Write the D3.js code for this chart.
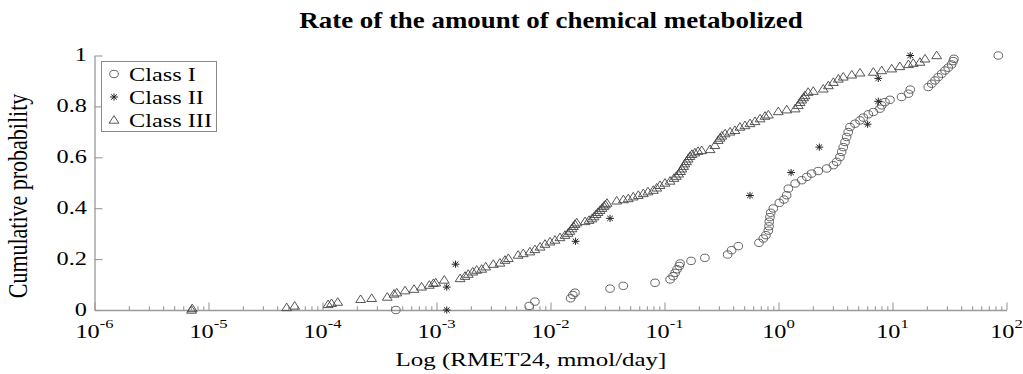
<!DOCTYPE html>
<html><head><meta charset="utf-8">
<script src="https://cdn.jsdelivr.net/npm/d3@7"></script>
<style>
body{margin:0;background:#fff}
svg{display:block}
text{font-family:"Liberation Serif","Times New Roman",serif;fill:#000}
</style>
</head><body>
<svg id="chart" width="1023" height="374"></svg>
<script>
// ---------- data ----------
const chartTitle = "Rate of the amount of chemical metabolized";
const xAxisTitle = "Log (RMET24, mmol/day]";
const yAxisTitle = "Cumulative probability";
const seriesNames = ["Class I", "Class II", "Class III"];
const xTickExponents = [-6, -5, -4, -3, -2, -1, 0, 1, 2];
const yTickValues = [0, 0.2, 0.4, 0.6, 0.8, 1];
const yTickLabels = ["0", "0.2", "0.4", "0.6", "0.8", "1"];

// Class I  (RMET24 value, cumulative probability)
const classI = [
 [4.4e-4,0],[6.5e-3,.016],[7.3e-3,.033],[.0150,.046],[.0157,.059],[.0164,.068],[.0333,.084],[.0435,.095],
 [.0826,.107],[.112,.120],[.119,.133],[.124,.146],[.129,.160],[.135,.173],[.137,.183],[.171,.193],[.226,.205],
 [.358,.218],[.388,.235],[.444,.251],[.674,.264],[.736,.281],[.776,.294],[.815,.312],[.826,.329],[.830,.347],
 [.841,.365],[.855,.382],[.90,.399],[1.017,.421],[1.117,.434],[1.18,.451],[1.22,.477],[1.40,.497],[1.60,.510],
 [1.77,.523],[1.95,.536],[2.23,.546],[2.65,.556],[3.03,.569],[3.24,.582],[3.46,.601],[3.58,.621],[3.70,.640],
 [3.83,.660],[3.96,.680],[4.09,.699],[4.24,.719],[4.69,.732],[5.19,.745],[5.55,.756],[6.14,.769],[6.79,.778],
 [7.76,.791],[8.04,.804],[8.59,.817],[9.50,.826],[12.0,.837],[13.8,.850],[14.3,.866],[20.6,.876],[22.1,.889],
 [23.6,.902],[25.2,.915],[27.0,.928],[28.9,.941],[30.8,.952],[33.0,.965],[34.1,.978],[34.6,.987],[84.7,1.0]
];
// Class II
const classII = [
 [1.23e-3,0],[1.23e-3,.09],[1.47e-3,.18],[.0166,.27],[.0333,.36],[.562,.45],[1.29,.54],[2.28,.64],
 [6.05,.73],[7.5,.82],[7.5,.91],[14.3,1.0]
];
// Class III
const classIII = [
 [7.1e-6,0],[7.2e-6,.006],[4.85e-5,.010],[5.7e-5,.016],[1.12e-4,.022],[1.2e-4,.026],[1.36e-4,.031],[2.16e-4,.042],
 [2.7e-4,.046],[3.7e-4,.051],[4.24e-4,.063],[4.48e-4,.068],[5.3e-4,.076],[6.35e-4,.082],[7.4e-4,.091],[8.65e-4,.098],
 [9.4e-4,.105],[9.85e-4,.107],[1.17e-3,.118],[1.61e-3,.124],[1.78e-3,.133],[1.9e-3,.141],[2.08e-3,.150],[2.25e-3,.157],
 [2.49e-3,.161],[2.7e-3,.170],[3.15e-3,.180],[3.6e-3,.185],[3.99e-3,.196],[4.27e-3,.203],[5.2e-3,.216],[5.77e-3,.222],
 [6.6e-3,.229],[7.3e-3,.238],[8.1e-3,.248],[8.95e-3,.259],[9.9e-3,.268],[.01095,.275],[.0121,.285],[.0134,.294],
 [.01425,.302],[.0148,.310],[.01545,.320],[.0159,.329],[.0164,.337],[.0170,.343],[.0201,.348],[.0218,.353],
 [.0231,.359],[.0241,.367],[.0251,.376],[.0261,.384],[.0272,.392],[.0283,.400],[.0294,.408],[.0303,.414],
 [.0313,.420],[.0381,.429],[.0436,.434],[.0481,.438],[.0532,.445],[.0589,.451],[.0652,.458],[.0716,.465],
 [.0798,.471],[.0855,.480],[.0914,.490],[.101,.499],[.112,.507],[.121,.518],[.127,.526],[.133,.535],
 [.138,.545],[.142,.555],[.147,.565],[.151,.575],[.156,.584],[.161,.594],[.167,.604],[.174,.612],
 [.185,.618],[.197,.624],[.212,.627],[.251,.631],[.277,.647],[.296,.667],[.307,.676],[.318,.684],
 [.340,.693],[.376,.700],[.415,.706],[.459,.719],[.508,.725],[.562,.733],[.622,.741],[.689,.752],
 [.762,.762],[.815,.767],[.996,.780],[1.18,.787],[1.40,.791],[1.49,.804],[1.545,.816],[1.60,.826],
 [1.66,.835],[1.71,.843],[1.82,.856],[2.02,.860],[2.47,.869],[2.74,.882],[3.03,.895],[3.35,.908],
 [3.70,.916],[4.39,.924],[5.19,.932],[6.79,.935],[8.04,.941],[9.84,.948],[11.6,.957],[13.8,.965],
 [15.2,.970],[17.4,.974],[19.3,.987],[24.4,1.0]
];

// ---------- layout ----------
const SX = 1.28;           // horizontal stretch of the reference image
const svg = d3.select("#chart");
const axisColor = "#9a9a9a";
const x = d3.scaleLog().domain([1e-6, 1e2]).range([94.5, 1006.5]);
const y = d3.scaleLinear().domain([0, 1]).range([310, 55.5]);

function stext(str, tx, ty, size, anchor, weight, sx) {
  return svg.append("text")
    .attr("transform", `translate(${tx},${ty}) scale(${sx || SX},1)`)
    .attr("text-anchor", anchor || "middle")
    .style("font-size", size + "px")
    .style("font-weight", weight || "normal")
    .text(str);
}

// title
stext(chartTitle, 551, 28, 23, "middle", "bold", 1.17);

// axes
const majorVals = xTickExponents.map(e => Math.pow(10, e));
const minorVals = [];
xTickExponents.slice(0, -1).forEach(e => { for (let k = 2; k <= 9; k++) minorVals.push(k * Math.pow(10, e)); });

const gx = svg.append("g").attr("transform", `translate(0,${y(0)})`);
gx.call(d3.axisBottom(x).tickValues(majorVals).tickSize(-7.5).tickSizeOuter(0).tickFormat(""));
const gxm = svg.append("g").attr("transform", `translate(0,${y(0)})`);
gxm.call(d3.axisBottom(x).tickValues(minorVals).tickSize(-3.8).tickSizeOuter(0).tickFormat(""));
gxm.select(".domain").remove();

const gy = svg.append("g").attr("transform", `translate(${x(1e-6)},0)`);
gy.call(d3.axisLeft(y).tickValues(yTickValues).tickSize(-8).tickSizeOuter(0).tickFormat(""));

svg.selectAll(".domain").attr("stroke", axisColor).attr("stroke-width", 1.3);
svg.selectAll(".tick line").attr("stroke", axisColor).attr("stroke-width", 1.1);

// x tick labels 10^e
xTickExponents.forEach(e => {
  const t = svg.append("text")
    .attr("transform", `translate(${x(Math.pow(10, e))},337.5) scale(${SX},1)`)
    .attr("text-anchor", "middle")
    .style("font-size", "19px");
  t.append("tspan").text("10");
  t.append("tspan").attr("dy", -9.5).style("font-size", "13px").text(String(e));
});
// y tick labels
yTickValues.forEach((v, i) => {
  stext(yTickLabels[i], 87, y(v) + 5.5, 19, "end");
});
// axis titles
stext(xAxisTitle, 531, 366, 19.5, "middle");
svg.append("text")
  .attr("transform", `translate(27,196) scale(${SX},1) rotate(-90)`)
  .attr("text-anchor", "middle")
  .style("font-size", "22px")
  .text(yAxisTitle);

// ---------- markers ----------
function circlePath() { return "M4.3,0 A4.3,3.7 0 1,1 -4.3,0 A4.3,3.7 0 1,1 4.3,0 Z"; }
function trianglePath() { return "M0,-4.4 L4.9,3.2 L-4.9,3.2 Z"; }
function starPath() {
  const r = 3.6, rx = 3.9;
  return `M0,${-r}L0,${r}M${-rx},0L${rx},0M${-rx*0.72},${-r*0.72}L${rx*0.72},${r*0.72}M${-rx*0.72},${r*0.72}L${rx*0.72},${-r*0.72}`;
}
const markerStyle = [
  {path: circlePath(), stroke: "#555", width: 0.9},
  {path: starPath(), stroke: "#222", width: 1.0},
  {path: trianglePath(), stroke: "#444", width: 0.9}
];
const allSeries = [classI, classII, classIII];
[0, 1, 2].forEach(si => {
  const st = markerStyle[si];
  svg.append("g").selectAll("path").data(allSeries[si]).join("path")
    .attr("transform", d => `translate(${x(d[0])},${y(d[1])})`)
    .attr("d", st.path)
    .attr("fill", "none")
    .attr("stroke", st.stroke)
    .attr("stroke-width", st.width);
});

// ---------- legend ----------
const lg = svg.append("g");
lg.append("rect").attr("x", 101.5).attr("y", 61.5).attr("width", 115).attr("height", 70)
  .attr("fill", "#fff").attr("stroke", "#8a8a8a").attr("stroke-width", 1);
seriesNames.forEach((name, i) => {
  const cy = 74 + i * 23;
  lg.append("path").attr("transform", `translate(114,${cy})`).attr("d", markerStyle[i].path)
    .attr("fill", "none").attr("stroke", markerStyle[i].stroke).attr("stroke-width", markerStyle[i].width);
  lg.append("text")
    .attr("transform", `translate(129,${cy + 6.5}) scale(${SX},1)`)
    .attr("text-anchor", "start").style("font-size", "19px").text(name);
});
</script>
</body></html>
